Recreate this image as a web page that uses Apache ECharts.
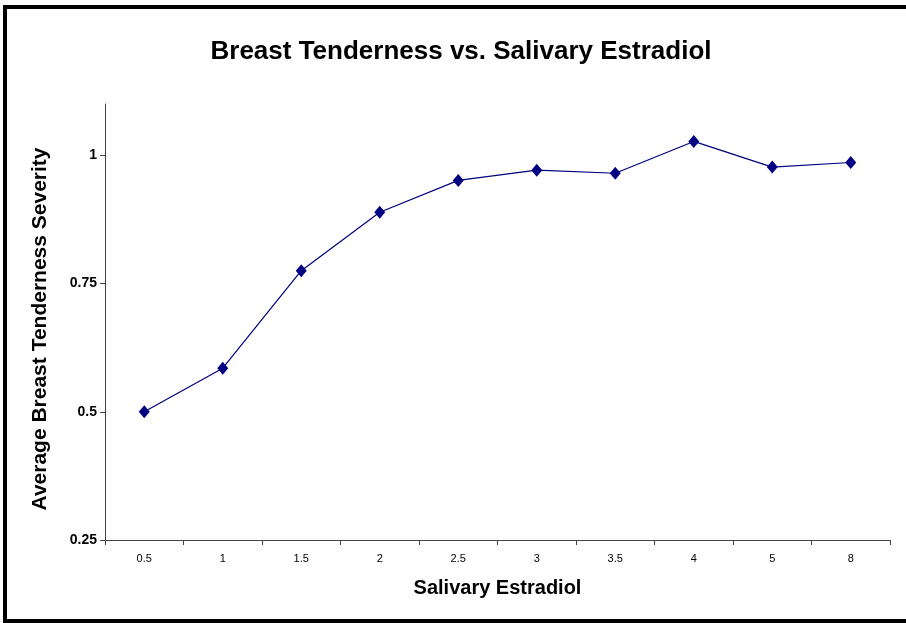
<!DOCTYPE html>
<html>
<head>
<meta charset="utf-8">
<script src="https://cdn.jsdelivr.net/npm/echarts@6/dist/echarts.min.js"></script>
<style>
  html, body { margin: 0; padding: 0; background: #fff; }
  #chart { width: 906px; height: 623px; }
</style>
</head>
<body>
<div id="chart"></div>
<script>
// x categories (salivary estradiol levels)
var estradiol = ['0.5', '1', '1.5', '2', '2.5', '3', '3.5', '4', '5', '8'];
// average breast tenderness severity
var severity = [0.500, 0.585, 0.775, 0.889, 0.951, 0.971, 0.965, 1.027, 0.977, 0.986];
var yTicks = [0.25, 0.5, 0.75, 1];

var myChart = echarts.init(document.getElementById('chart'));

myChart.setOption({
    animation: false,
    backgroundColor: '#fff',
    title: {
        text: 'Breast Tenderness vs. Salivary Estradiol',
        left: 456,
        textAlign: 'center',
        top: 34,
        textStyle: {
            fontFamily: 'Liberation Sans, Arial',
            fontWeight: 'bold',
            fontSize: 26,
            color: '#000'
        }
    },
    graphic: [{
        type: 'rect',
        shape: { x: 5, y: 7, width: 910, height: 614 },
        style: { fill: 'none', stroke: '#000', lineWidth: 4 },
        silent: true
    }],
    grid: {
        left: 105,
        right: 16,
        top: 104,
        bottom: 83
    },
    xAxis: {
        type: 'category',
        data: estradiol,
        boundaryGap: true,
        name: 'Salivary Estradiol',
        nameLocation: 'middle',
        nameGap: 38,
        nameTextStyle: {
            fontFamily: 'Liberation Sans, Arial',
            fontWeight: 'bold',
            fontSize: 20,
            color: '#000'
        },
        axisLine: { lineStyle: { color: '#444', width: 1 } },
        axisTick: { show: true, length: 5, lineStyle: { color: '#444' } },
        axisLabel: {
            margin: 13,
            fontFamily: 'Liberation Sans, Arial',
            fontSize: 11,
            color: '#000'
        },
        splitLine: { show: false }
    },
    yAxis: {
        type: 'value',
        min: 0.25,
        max: 1.1,
        interval: 0.25,
        name: 'Average Breast Tenderness Severity',
        nameLocation: 'middle',
        nameGap: 54,
        nameTextStyle: {
            fontFamily: 'Liberation Sans, Arial',
            fontWeight: 'bold',
            fontSize: 21,
            color: '#000',
            padding: [0, 14, 0, 0]
        },
        axisLine: { show: true, lineStyle: { color: '#444', width: 1 } },
        axisTick: {
            show: true,
            length: 5,
            inside: false,
            customValues: yTicks,
            lineStyle: { color: '#444' }
        },
        axisLabel: {
            margin: 8,
            customValues: yTicks,
            fontFamily: 'Liberation Sans, Arial',
            fontWeight: 'bold',
            fontSize: 14,
            color: '#000'
        },
        splitLine: { show: false }
    },
    series: [{
        name: 'Severity',
        type: 'line',
        data: severity,
        symbol: 'diamond',
        symbolSize: [11, 13],
        lineStyle: { color: '#000080', width: 1.2 },
        itemStyle: { color: '#000080' }
    }]
});
</script>
</body>
</html>
